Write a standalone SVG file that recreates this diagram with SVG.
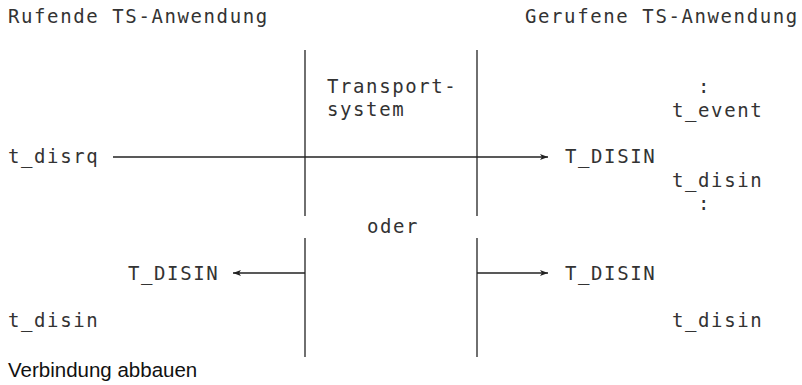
<svg xmlns="http://www.w3.org/2000/svg" width="802" height="385" viewBox="0 0 802 385">
  <style>
    .mono { font-family: "DejaVu Sans Mono", "Liberation Mono", monospace; font-size: 19px; letter-spacing: 1.6px; fill: #333; }
    .caption { font-family: "Liberation Sans", Arial, sans-serif; font-size: 20.5px; fill: #111; }
    .wire { stroke: #222; stroke-width: 1.3; fill: none; }
    .arrow { stroke: #222; stroke-width: 1.3; fill: none; marker-end: url(#head); }
  </style>
  <defs>
    <marker id="head" viewBox="0 0 8 6" refX="8" refY="3" markerWidth="8" markerHeight="6" markerUnits="userSpaceOnUse" orient="auto">
      <path d="M0,0 L8,3 L0,6 L2,3 Z" fill="#222"/>
    </marker>
  </defs>
  <rect width="802" height="385" fill="#fff"/>

  <!-- column headers -->
  <g id="caller-header"><text class="mono" x="8" y="23">Rufende TS-Anwendung</text></g>
  <g id="callee-header"><text class="mono" x="525" y="23">Gerufene TS-Anwendung</text></g>

  <!-- transport system boundaries -->
  <g id="transport-system">
    <line class="wire" x1="305" y1="50" x2="305" y2="216"/>
    <line class="wire" x1="477" y1="50" x2="477" y2="216"/>
    <line class="wire" x1="305" y1="238" x2="305" y2="357"/>
    <line class="wire" x1="477" y1="238" x2="477" y2="357"/>
    <text class="mono" x="327" y="93">Transport-</text>
    <text class="mono" x="327" y="116">system</text>
    <text class="mono" x="367" y="233">oder</text>
  </g>

  <!-- caller side -->
  <g id="caller">
    <text class="mono" x="8" y="163">t_disrq</text>
    <text class="mono" x="128" y="280">T_DISIN</text>
    <text class="mono" x="8" y="327">t_disin</text>
  </g>

  <!-- callee side -->
  <g id="callee">
    <text class="mono" x="698" y="93">:</text>
    <text class="mono" x="672" y="117">t_event</text>
    <text class="mono" x="565" y="163">T_DISIN</text>
    <text class="mono" x="672" y="187">t_disin</text>
    <text class="mono" x="698" y="210">:</text>
    <text class="mono" x="565" y="280">T_DISIN</text>
    <text class="mono" x="672" y="327">t_disin</text>
  </g>

  <!-- connectors -->
  <g id="connectors">
    <line class="arrow" x1="113" y1="157" x2="548" y2="157"/>
    <line class="arrow" x1="305" y1="273" x2="233" y2="273"/>
    <line class="arrow" x1="477" y1="273" x2="548" y2="273"/>
  </g>

  <g id="caption"><text class="caption" x="8" y="377">Verbindung abbauen</text></g>
</svg>
